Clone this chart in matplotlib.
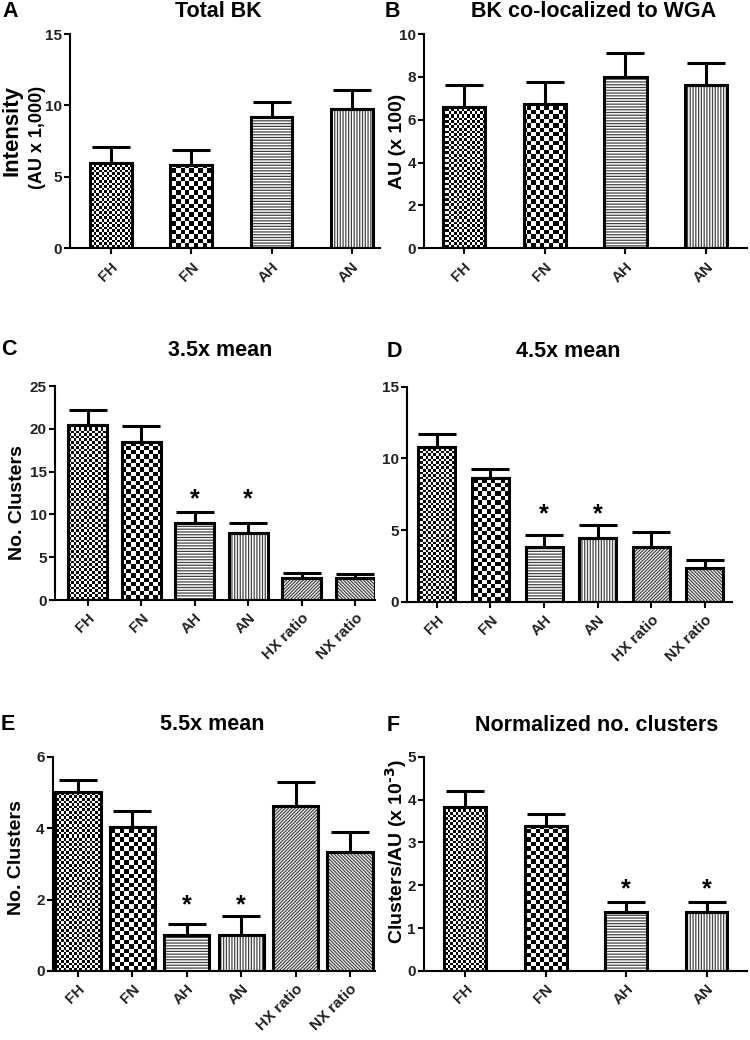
import numpy as np
import matplotlib
matplotlib.use("Agg")
import matplotlib.pyplot as plt

plt.rcParams['font.family'] = ['Liberation Sans', 'DejaVu Sans']
plt.rcParams['font.weight'] = 'bold'
plt.rcParams['hatch.linewidth'] = 0.9

# data
groups4 = ['FH', 'FN', 'AH', 'AN']
groups6 = ['FH', 'FN', 'AH', 'AN', 'HX ratio', 'NX ratio']

total_bk = [5.94, 5.8, 9.16, 9.76]
total_bk_err = [1.14, 1.1, 1.07, 1.29]

wga_bk = [6.61, 6.72, 7.98, 7.6]
wga_bk_err = [1.01, 1.03, 1.15, 1.06]

mean35 = [20.5, 18.4, 8.96, 7.87, 2.6, 2.55]
mean35_err = [1.7, 1.9, 1.34, 1.09, 0.5, 0.45]

mean45 = [10.8, 8.65, 3.84, 4.42, 3.84, 2.33]
mean45_err = [0.9, 0.59, 0.81, 0.93, 1.04, 0.57]

mean55 = [5.0, 4.02, 1.01, 1.0, 4.62, 3.32]
mean55_err = [0.35, 0.46, 0.31, 0.55, 0.68, 0.58]

norm_clusters = [3.82, 3.39, 1.38, 1.38]
norm_clusters_err = [0.39, 0.27, 0.24, 0.24]

star_groups = ['AH', 'AN']
star_level = {'C': 12.65, 'D': 6.6, 'E': 2.04, 'F': 2.08}

# fill style per group
fills = {'FH': ('checker', 2.6), 'FN': ('checker', 4.4), 'AH': ('hatch', '------'),
         'AN': ('hatch', '||||||'), 'HX ratio': ('hatch', '//////////'),
         'NX ratio': ('hatch', '\\' * 10)}

W, H = 750, 1040
fig = plt.figure(figsize=(W / 100, H / 100), dpi=100)


def checker(h, w, c):
    i, j = np.indices((h, w))
    return (np.floor(i / c) + np.floor(j / c)) % 2


def panel(rect, xlim, ylim, yticks, cats, vals, errs, bw, letter=None):
    l, t, r, b = rect
    ax = fig.add_axes([l / W, 1 - b / H, (r - l) / W, (b - t) / H])
    x = np.arange(len(cats))
    hpx, wpx = int(b - t), int(r - l)
    for xi, c, v in zip(x, cats, vals):
        kind, arg = fills[c]
        if kind == 'checker':
            bar = ax.bar(xi, v, bw, color='white', linewidth=0, zorder=1)[0]
            im = ax.imshow(checker(hpx, wpx, arg), cmap='gray', vmin=0, vmax=1,
                           extent=[xlim[0], xlim[1], ylim[0], ylim[1]], origin='lower',
                           aspect='auto', interpolation='nearest', zorder=2)
            im.set_clip_path(bar)
        else:
            ax.bar(xi, v, bw, color='white', edgecolor='#444444', hatch=arg,
                   linewidth=0, zorder=1)
    ax.bar(x, vals, bw, fill=False, edgecolor='black', linewidth=2.2, zorder=3)
    ax.errorbar(x, vals, yerr=[np.zeros(len(vals)), errs], fmt='none', ecolor='black',
                elinewidth=2.2, capsize=14, capthick=2.2, zorder=4)
    if letter in star_level:
        for g in star_groups:
            ax.annotate('*', (cats.index(g), star_level[letter]), xytext=(0, -10.5),
                        textcoords='offset points', ha='center', va='baseline',
                        fontsize=18, fontweight='bold', annotation_clip=False)
    ax.set_xlim(*xlim)
    ax.set_ylim(*ylim)
    ax.set_yticks(yticks)
    ax.set_xticks(x)
    ax.set_xticklabels(cats, rotation=45, ha='right', rotation_mode='anchor')
    for s in ['top', 'right']:
        ax.spines[s].set_visible(False)
    for s in ['left', 'bottom']:
        ax.spines[s].set_linewidth(1.5)
    ax.tick_params(axis='both', width=1.5, length=4, labelsize=11, colors='black',
                   labelcolor='#222222', pad=2)
    ax.tick_params(axis='x', pad=4)
    for lab in ax.get_xticklabels() + ax.get_yticklabels():
        lab.set_fontweight('bold')
    return ax


panel((70, 34, 380, 248.3), (-0.51, 3.35), (0, 15), [0, 5, 10, 15],
      groups4, total_bk, total_bk_err, 0.52, 'A')
panel((424.3, 34, 746.7, 248.3), (-0.49, 3.5), (0, 10), [0, 2, 4, 6, 8, 10],
      groups4, wga_bk, wga_bk_err, 0.52, 'B')
panel((55, 386, 375, 600), (-0.61, 5.37), (0, 25), [0, 5, 10, 15, 20, 25],
      groups6, mean35, mean35_err, 0.73, 'C')
panel((407.3, 386.7, 731.7, 601.7), (-0.55, 5.5), (0, 15), [0, 5, 10, 15],
      groups6, mean45, mean45_err, 0.69, 'D')
panel((53, 756.7, 375, 971), (-0.46, 5.46), (0, 6), [0, 2, 4, 6],
      groups6, mean55, mean55_err, 0.83, 'E')
panel((424.3, 756.7, 746.7, 971), (-0.51, 3.5), (0, 5), [0, 1, 2, 3, 4, 5],
      groups4, norm_clusters, norm_clusters_err, 0.52, 'F')


def ftxt(x, y, s, **kw):
    fig.text(x / W, 1 - y / H, s, fontweight='bold', **kw)


# panel letters and titles
for letter, lx, ly in [('A', 2, 17), ('B', 385, 17), ('C', 1, 355), ('D', 387, 357),
                       ('E', 1, 730), ('F', 387, 731)]:
    ftxt(lx, ly, letter, fontsize=15.5, va='baseline', ha='left')
for title, tx, ty in [('Total BK', 218, 17), ('BK co-localized to WGA', 594, 17),
                      ('3.5x mean', 220, 356), ('4.5x mean', 568, 357),
                      ('5.5x mean', 212, 730), ('Normalized no. clusters', 597, 731)]:
    ftxt(tx, ty, title, fontsize=15.5, va='baseline', ha='center')

# y labels
ftxt(12, 131, 'Intensity', fontsize=16, rotation=90, ha='center', va='center')
ftxt(38, 137, '(AU x 1,000)', fontsize=13, rotation=90, ha='center', va='center')
ftxt(397, 141, 'AU (x 100)', fontsize=14, rotation=90, ha='center', va='center')
ftxt(18, 503, 'No. Clusters', fontsize=14, rotation=90, ha='center', va='center')
ftxt(17, 858, 'No. Clusters', fontsize=14, rotation=90, ha='center', va='center')
ftxt(396, 852, r'Clusters/AU (x 10$^{\text{-3}}$)', fontsize=14, rotation=90,
     ha='center', va='center')

fig.savefig('out.png', dpi=100)
